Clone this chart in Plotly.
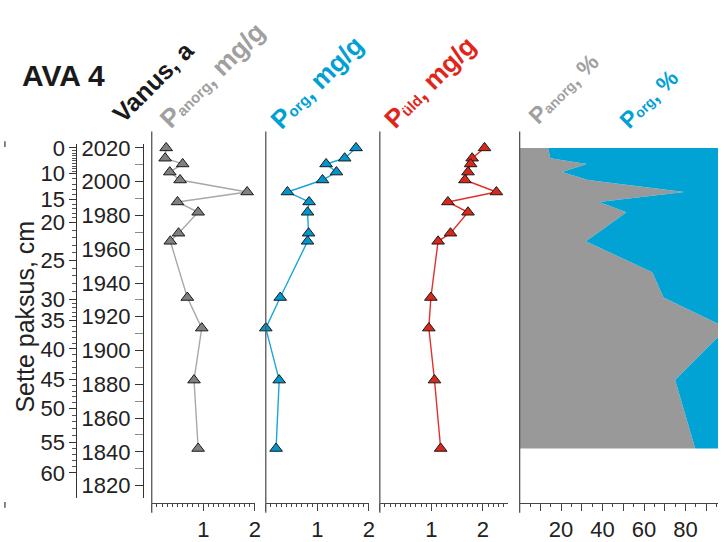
import numpy as np
import plotly.graph_objects as go

W, H = 724, 542

# ---------------- data ----------------
age = [2020.0, 2013.9, 2010.5, 2005.7, 2001.0, 1993.9, 1988.0, 1981.9,
       1969.5, 1964.7, 1931.4, 1913.3, 1882.5, 1842.0]
p_anorg = [0.28, 0.26, 0.60, 0.35, 0.55, 1.85, 0.50, 0.90, 0.52, 0.36, 0.69, 0.97, 0.82, 0.90]
p_org = [1.75, 1.53, 1.17, 1.37, 1.10, 0.42, 0.84, 0.81, 0.83, 0.81, 0.28, 0.00, 0.26, 0.20]
p_uld = [2.03, 1.79, 1.76, 1.71, 1.65, 2.26, 1.32, 1.71, 1.37, 1.13, 0.99, 0.95, 1.06, 1.18]

pct_age = [2020.0, 2013.9, 2010.5, 2005.7, 2001.0, 1993.9, 1988.0, 1981.9,
           1969.5, 1964.7, 1946.3, 1931.4, 1913.3, 1882.5, 1842.0]
p_anorg_pct = [13.7, 14.8, 32.4, 20.4, 33.0, 79.4, 38.3, 51.5, 37.5, 31.9, 64.0, 69.4, 100.0, 75.0, 84.7]
p_org_pct = [100 - v for v in p_anorg_pct]

age_ticks = [2020, 2000, 1980, 1960, 1940, 1920, 1900, 1880, 1860, 1840, 1820]
age_minor = [2010, 1990, 1970, 1950, 1930, 1910, 1890, 1870, 1850, 1830]
depth_labels = [0, 10, 15, 20, 25, 30, 35, 40, 45, 50, 55, 60]
depth_label_age = [2020.0, 2004.7, 1989.5, 1975.8, 1953.3, 1930.5, 1917.7,
                   1901.0, 1882.9, 1865.7, 1845.7, 1827.6]

# ---------------- layout helpers ----------------
FONT = "Liberation Sans, Arial, sans-serif"
def fx(x): return x / W
def fy(y): return 1 - y / H
def age_at(y): return 2020 - (y - 145) / 1.75

Y_TOP, Y_BOT = 141, 508
yrange = [age_at(Y_BOT), age_at(Y_TOP)]
Y_AXTOP, Y_AXBOT = 139, 513

depth_minor = [d for d in range(0, 61) if d not in depth_labels]
depth_minor_age = list(np.interp(depth_minor, depth_labels, depth_label_age))

fig = go.Figure()

GRAY_M, GRAY_L = "#808080", "#a8a8a8"
BLUE_M, BLUE_L = "#0096cc", "#19a6dc"
RED_M, RED_L = "#d8281c", "#e2302a"

def series(x, axis, mcol, lcol):
    fig.add_trace(go.Scatter(
        x=x, y=age, xaxis=axis, yaxis="y", mode="lines+markers",
        line=dict(color=lcol, width=1.4),
        marker=dict(symbol="triangle-up", size=11, color=mcol,
                    line=dict(color="#1a1a1a", width=1)),
        cliponaxis=False, showlegend=False, hoverinfo="skip"))

series(p_anorg, "x", GRAY_M, GRAY_L)
series(p_org, "x2", BLUE_M, BLUE_L)
series(p_uld, "x3", RED_M, RED_L)

fig.add_trace(go.Scatter(x=p_anorg_pct, y=pct_age, xaxis="x4", yaxis="y",
                         mode="lines", line=dict(width=0, color="#999999"),
                         fill="tozerox", fillcolor="#999999",
                         showlegend=False, hoverinfo="skip"))
fig.add_trace(go.Scatter(x=[a + b for a, b in zip(p_anorg_pct, p_org_pct)], y=pct_age,
                         xaxis="x4", yaxis="y", mode="lines",
                         line=dict(width=0, color="#00a3d4"),
                         fill="tonextx", fillcolor="#00a3d4",
                         showlegend=False, hoverinfo="skip"))

AX = "#444444"
panels = [
    # name, left, right, range, tickvals, ticktext, minor, top dtick
    ("", 153, 257, [0, 2], [0, 1, 2], ["", "1", "2"], 0.1, 0.1),
    ("2", 268, 372, [0, 2], [0, 1, 2], ["", "1", "2"], 0.1, 0.1),
    ("3", 383, 512, [0, (512 - 383) / 52], [0, 1, 2], ["", "1", "2"], 0.1, 0.1),
    ("4", 524, 724, [0, 200 / 2.09], list(range(0, 100, 10)),
     ["", "", "20", "", "40", "", "60", "", "80", ""], 5, 5),
]
layout = {}
for i, (n, l, r, rng, tv, tt, mn, td) in enumerate(panels):
    layout["xaxis" + n] = dict(
        domain=[fx(l), fx(r)], range=rng, anchor="free", position=fy(Y_AXBOT),
        showline=True, linecolor=AX, linewidth=1, showgrid=False, zeroline=False,
        ticks="outside", tickvals=tv, ticktext=tt, ticklen=7, tickwidth=1, tickcolor=AX,
        minor=dict(ticks="outside", dtick=mn, tick0=0, ticklen=3, tickcolor=AX, showgrid=False),
        tickfont=dict(family=FONT, size=22, color="#222222"), fixedrange=True)
    layout["xaxis" + str(5 + i)] = dict(
        overlaying="x" + n, range=rng, anchor="free", position=fy(Y_AXTOP), side="top",
        showline=True, linecolor=AX, linewidth=1, showgrid=False, zeroline=False,
        ticks="inside", dtick=td, tick0=0, ticklen=4, tickwidth=1, tickcolor=AX,
        showticklabels=False, fixedrange=True)
    fig.add_shape(type="line", xref="paper", yref="paper",
                  x0=fx(l), x1=fx(l), y0=fy(128), y1=fy(523),
                  line=dict(color="#555555", width=1.3))

layout["yaxis"] = dict(
    domain=[fy(Y_BOT), fy(Y_TOP)], range=yrange, anchor="free", position=fx(144),
    showline=True, linecolor="#333333", linewidth=1, showgrid=False, zeroline=False,
    ticks="outside", tickvals=age_ticks, ticklen=8, tickcolor="#333333",
    minor=dict(ticks="outside", tickvals=age_minor, ticklen=8, tickcolor="#8a8a8a", showgrid=False),
    tickfont=dict(family=FONT, size=22, color="#222222"), fixedrange=True)
layout["yaxis2"] = dict(
    overlaying="y", range=yrange, anchor="free", position=fx(77), side="left",
    showline=True, linecolor="#333333", linewidth=1, showgrid=False, zeroline=False,
    ticks="outside", tickvals=depth_label_age, ticktext=[str(d) for d in depth_labels],
    ticklen=7, tickcolor="#333333",
    minor=dict(ticks="outside", tickvals=depth_minor_age, ticklen=4, tickcolor="#555555", showgrid=False),
    tickfont=dict(family=FONT, size=22, color="#222222"), fixedrange=True)
# dummy trace so yaxis2 is drawn
fig.add_trace(go.Scatter(x=[None], y=[None], xaxis="x", yaxis="y2", showlegend=False))

# small crop marks at left edge
for y0, y1 in [(138, 144), (512, 518)]:
    fig.add_shape(type="line", xref="paper", yref="paper", x0=fx(5), x1=fx(5),
                  y0=fy(y0), y1=fy(y1), line=dict(color="#333333", width=1.2))

def ann(text, x, y, size, color, angle=0):
    fig.add_annotation(text=text, x=fx(x), y=fy(y), xref="paper", yref="paper",
                       showarrow=False, textangle=angle, xanchor="center", yanchor="middle",
                       font=dict(family=FONT, size=size, color=color))

ann("<b>AVA 4</b>", 64, 70, 30, "#1a1a1a")
ann("<b>Vanus, a</b>", 155, 76, 25, "#1a1a1a", -45)
GT, BT, RT = "#a0a0a0", "#00a0d6", "#e0261b"
ann("<b>P<span style='font-size:15px'>anorg</span>, mg/g</b>", 214, 69, 26, GT, -45)
ann("<b>P<span style='font-size:15px'>org</span>, mg/g</b>", 320, 77, 26, BT, -45)
ann("<b>P<span style='font-size:15px'>üld</span>, mg/g</b>", 434, 77, 26, RT, -45)
ann("<b>P<span style='font-size:14px'>anorg</span>, %</b>", 568, 84, 23, GT, -45)
ann("<b>P<span style='font-size:14px'>org</span>, %</b>", 654, 94, 23, BT, -45)
ann("Sette paksus, cm", 25, 320, 25, "#222222", -90)

fig.update_layout(width=W, height=H, margin=dict(l=0, r=0, t=0, b=0),
                  paper_bgcolor="white", plot_bgcolor="white", showlegend=False,
                  **layout)

fig.write_html("out.html", config={"displayModeBar": False},
               post_script="document.body.style.margin='0px';document.body.style.overflow='hidden';")
